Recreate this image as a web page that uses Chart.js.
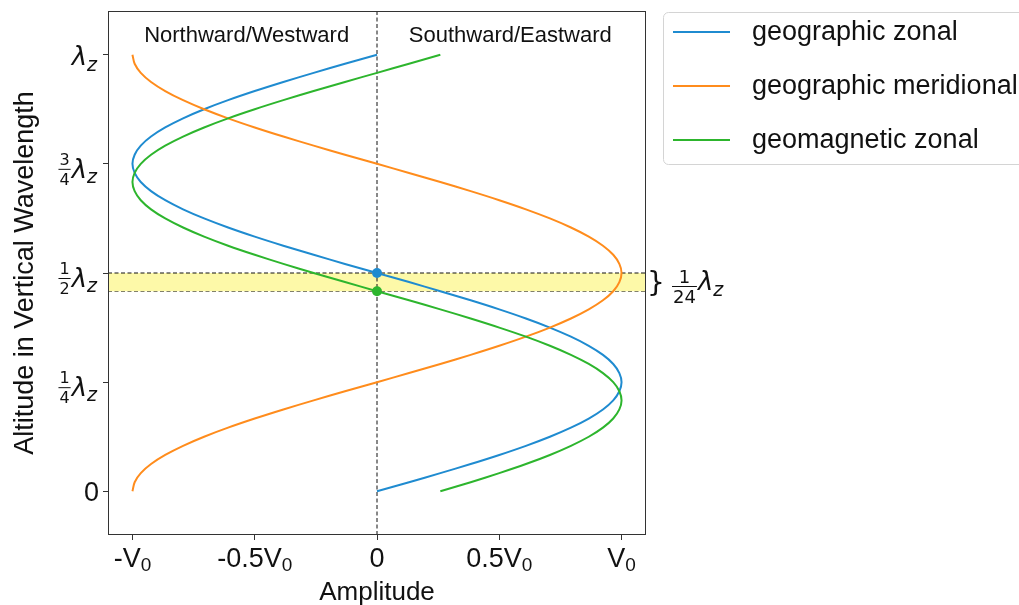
<!DOCTYPE html>
<html>
<head>
<meta charset="utf-8">
<script src="https://cdn.jsdelivr.net/npm/chart.js@4.4.0/dist/chart.umd.min.js"></script>
<style>
  html, body { margin: 0; padding: 0; background: #fff; }
</style>
</head>
<body>
<canvas id="waveChart" width="1019" height="605"></canvas>
<script>
// altitude in units of the vertical wavelength (lambda_z)
const altitude = [0, 0.0208, 0.0417, 0.0625, 0.0833, 0.1042, 0.125, 0.1458, 0.1667, 0.1875, 0.2083, 0.2292,
  0.25, 0.2708, 0.2917, 0.3125, 0.3333, 0.3542, 0.375, 0.3958, 0.4167, 0.4375, 0.4583, 0.4792,
  0.5, 0.5208, 0.5417, 0.5625, 0.5833, 0.6042, 0.625, 0.6458, 0.6667, 0.6875, 0.7083, 0.7292,
  0.75, 0.7708, 0.7917, 0.8125, 0.8333, 0.8542, 0.875, 0.8958, 0.9167, 0.9375, 0.9583, 0.9792, 1];

// amplitude in units of V0
const geographicZonal = [0, 0.131, 0.259, 0.383, 0.5, 0.609, 0.707, 0.793, 0.866, 0.924, 0.966, 0.991,
  1, 0.991, 0.966, 0.924, 0.866, 0.793, 0.707, 0.609, 0.5, 0.383, 0.259, 0.131,
  0, -0.131, -0.259, -0.383, -0.5, -0.609, -0.707, -0.793, -0.866, -0.924, -0.966, -0.991,
  -1, -0.991, -0.966, -0.924, -0.866, -0.793, -0.707, -0.609, -0.5, -0.383, -0.259, -0.131, 0];
const geographicMeridional = [-1, -0.991, -0.966, -0.924, -0.866, -0.793, -0.707, -0.609, -0.5, -0.383, -0.259, -0.131,
  0, 0.131, 0.259, 0.383, 0.5, 0.609, 0.707, 0.793, 0.866, 0.924, 0.966, 0.991,
  1, 0.991, 0.966, 0.924, 0.866, 0.793, 0.707, 0.609, 0.5, 0.383, 0.259, 0.131,
  0, -0.131, -0.259, -0.383, -0.5, -0.609, -0.707, -0.793, -0.866, -0.924, -0.966, -0.991, -1];
const geomagneticZonal = [0.259, 0.383, 0.5, 0.609, 0.707, 0.793, 0.866, 0.924, 0.966, 0.991, 1,
  0.991, 0.966, 0.924, 0.866, 0.793, 0.707, 0.609, 0.5, 0.383, 0.259, 0.131, 0,
  -0.131, -0.259, -0.383, -0.5, -0.609, -0.707, -0.793, -0.866, -0.924, -0.966, -0.991, -1,
  -0.991, -0.966, -0.924, -0.866, -0.793, -0.707, -0.609, -0.5, -0.383, -0.259, -0.131, 0,
  0.131, 0.259];

// zero crossings marked with dots, and the shaded 1/24 band between them
const zonalNode = 0.5;
const geomagneticNode = 0.4583;
const bandTop = 0.5;
const bandBottom = 0.4583;

// ticks
const xTicks = [-1, -0.5, 0, 0.5, 1];
const xTickLabels = [['-V', '0'], ['-0.5V', '0'], ['0', ''], ['0.5V', '0'], ['V', '0']];
const yTicks = [0, 0.25, 0.5, 0.75, 1];
const yTickFracs = [null, ['1', '4'], ['1', '2'], ['3', '4'], []];

const BLUE = '#1f8bd0';
const ORANGE = '#ff8c1c';
const GREEN = '#2db52d';

const pts = (xs) => xs.map((v, i) => ({ x: v, y: altitude[i] }));

const SANS = '"Liberation Sans", Arial, sans-serif';
const MATH = '"DejaVu Sans", sans-serif';

// draws lambda_z, optionally preceded by a small fraction
function drawLambda(ctx, xLeft, base, frac, bigPx, subPx, fracPx) {
  let x = xLeft;
  if (frac) {
    ctx.font = fracPx + 'px ' + MATH;
    const wn = ctx.measureText(frac[0]).width;
    const wd = ctx.measureText(frac[1]).width;
    const wf = Math.max(wn, wd);
    ctx.textAlign = 'center';
    ctx.fillText(frac[0], x + wf / 2 + 1, base.num);
    ctx.fillText(frac[1], x + wf / 2 + 1, base.den);
    ctx.fillRect(x, base.bar, wf + 2, 1);
    ctx.textAlign = 'left';
    x += wf + 3;
  }
  ctx.font = 'italic ' + bigPx + 'px ' + MATH;
  ctx.fillText('λ', x, base.lam);
  x += ctx.measureText('λ').width;
  ctx.font = 'italic ' + subPx + 'px ' + MATH;
  ctx.fillText('z', x, base.sub);
}

function lambdaWidth(ctx, frac, bigPx, subPx, fracPx) {
  let w = 0;
  if (frac) {
    ctx.font = fracPx + 'px ' + MATH;
    w += Math.max(ctx.measureText(frac[0]).width, ctx.measureText(frac[1]).width) + 3;
  }
  ctx.font = 'italic ' + bigPx + 'px ' + MATH;
  w += ctx.measureText('λ').width;
  ctx.font = 'italic ' + subPx + 'px ' + MATH;
  w += ctx.measureText('z').width;
  return w;
}

const annotate = {
  id: 'annotate',
  afterDraw(chart) {
    const { ctx, chartArea: a, scales: { x, y } } = chart;
    ctx.save();
    ctx.fillStyle = '#111';
    ctx.strokeStyle = '#333';
    ctx.lineWidth = 1;

    // frame
    ctx.strokeRect(a.left + 0.5, a.top + 0.5, a.right - a.left - 1, a.bottom - a.top - 1);

    // x tick labels: V with subscript 0
    xTicks.forEach((v, i) => {
      const [main, sub] = xTickLabels[i];
      ctx.font = '27px ' + SANS;
      const wm = ctx.measureText(main).width;
      ctx.font = '19px ' + SANS;
      const ws = sub ? ctx.measureText(sub).width : 0;
      const left = x.getPixelForValue(v) - (wm + ws) / 2;
      ctx.textAlign = 'left';
      ctx.font = '27px ' + SANS;
      ctx.fillText(main, left, 567);
      if (sub) {
        ctx.font = '19px ' + SANS;
        ctx.fillText(sub, left + wm, 571);
      }
    });

    // y tick labels
    const right = 97;
    yTicks.forEach((v, i) => {
      const py = y.getPixelForValue(v);
      const frac = yTickFracs[i];
      if (frac === null) {
        ctx.font = '27px ' + SANS;
        ctx.textAlign = 'right';
        ctx.fillText('0', right + 2, py + 10);
        return;
      }
      const f = frac.length ? frac : null;
      const w = lambdaWidth(ctx, f, 26, 19, 16);
      const base = f
        ? { num: py + 1, den: py + 21, bar: py + 5, lam: py + 14, sub: py + 19 }
        : { lam: py + 10, sub: py + 16 };
      ctx.textAlign = 'left';
      drawLambda(ctx, right - w, base, f, 26, 19, 16);
    });

    // axis titles
    ctx.textAlign = 'center';
    ctx.font = '26px ' + SANS;
    ctx.fillText('Amplitude', (a.left + a.right) / 2, 600);
    ctx.save();
    ctx.translate(33, (a.top + a.bottom) / 2);
    ctx.rotate(-Math.PI / 2);
    ctx.font = '27px ' + SANS;
    ctx.fillText('Altitude in Vertical Wavelength', 0, 0);
    ctx.restore();

    // direction labels
    ctx.font = '22px ' + SANS;
    ctx.fillText('Northward/Westward', x.getPixelForValue(-0.533), 42);
    ctx.fillText('Southward/Eastward', x.getPixelForValue(0.545), 42);

    // brace with 1/24 lambda_z
    ctx.textAlign = 'left';
    ctx.font = '28px ' + MATH;
    ctx.fillText('}', 647, 292);
    drawLambda(ctx, 672, { num: 283, den: 303, bar: 286, lam: 290, sub: 296 }, ['1', '24'], 26, 19, 18);

    // legend
    const lx = 663.5, ly = 12.5;
    ctx.fillStyle = '#fff';
    ctx.strokeStyle = '#d4d4d4';
    ctx.beginPath();
    ctx.roundRect(lx, ly, 380, 152, 5);
    ctx.fill();
    ctx.stroke();
    const entries = chart.data.datasets.filter((d) => d.inLegend);
    entries.forEach((d, i) => {
      const cy = 32 + i * 54;
      ctx.strokeStyle = d.borderColor;
      ctx.lineWidth = 2;
      ctx.beginPath();
      ctx.moveTo(673, cy);
      ctx.lineTo(730, cy);
      ctx.stroke();
      ctx.fillStyle = '#111';
      ctx.font = '27px ' + SANS;
      ctx.fillText(d.label, 752, cy + 8);
    });
    ctx.restore();
  }
};

const curve = (label, data, color, order) => ({
  label, data: pts(data), borderColor: color, backgroundColor: color,
  borderWidth: 2, pointRadius: 0, tension: 0.3, fill: false, order, inLegend: true
});

const dashed = { borderColor: '#111', borderWidth: 1, borderDash: [4, 2.5], pointRadius: 0, tension: 0 };

new Chart(document.getElementById('waveChart'), {
  type: 'line',
  data: {
    datasets: [
      curve('geographic zonal', geographicZonal, BLUE, 4),
      curve('geographic meridional', geographicMeridional, ORANGE, 3),
      curve('geomagnetic zonal', geomagneticZonal, GREEN, 2),
      {
        label: 'nodes', data: [{ x: 0, y: zonalNode }, { x: 0, y: geomagneticNode }],
        showLine: false, pointRadius: 5, pointBorderWidth: 0,
        pointBackgroundColor: [BLUE, GREEN], order: 0
      },
      { label: 'zero', data: [{ x: 0, y: -0.1 }, { x: 0, y: 1.1 }], ...dashed, fill: false, order: 9 },
      {
        label: 'band top', data: [{ x: -1.1, y: bandTop }, { x: 1.1, y: bandTop }], ...dashed,
        fill: '+1', backgroundColor: '#fdf9a8', order: 10
      },
      { label: 'band bottom', data: [{ x: -1.1, y: bandBottom }, { x: 1.1, y: bandBottom }], ...dashed, fill: false, order: 11 }
    ]
  },
  options: {
    responsive: false,
    animation: false,
    devicePixelRatio: 1,
    layout: { padding: { left: 103, top: 11, right: 373, bottom: 65 } },
    plugins: { legend: { display: false }, tooltip: { enabled: false } },
    events: [],
    scales: {
      x: {
        type: 'linear', min: -1.1, max: 1.1,
        afterBuildTicks: (s) => { s.ticks = xTicks.map((v) => ({ value: v })); },
        ticks: { display: false },
        grid: { drawOnChartArea: false, drawTicks: true, tickLength: 5, color: '#333' },
        border: { display: false }
      },
      y: {
        type: 'linear', min: -0.1, max: 1.1,
        afterBuildTicks: (s) => { s.ticks = yTicks.map((v) => ({ value: v })); },
        ticks: { display: false },
        grid: { drawOnChartArea: false, drawTicks: true, tickLength: 5, color: '#333' },
        border: { display: false }
      }
    }
  },
  plugins: [annotate]
});
</script>
</body>
</html>
